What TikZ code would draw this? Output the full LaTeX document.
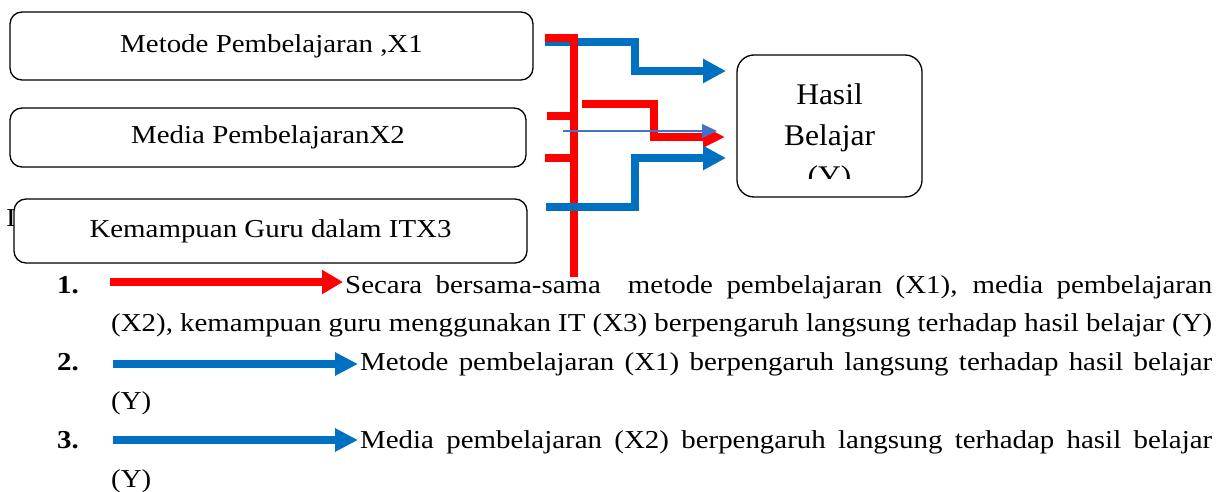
\documentclass[tikz,border=0pt]{standalone}
\usepackage{fontspec}
\setmainfont{Liberation Serif}[FakeStretch=1.12]
\newfontfamily\hasilfont{Liberation Serif}[FakeStretch=1.05]
\usepackage{xcolor}
\usepackage{tikz}
\usetikzlibrary{arrows.meta}
\definecolor{redline}{HTML}{FF0000}
\definecolor{blueline}{HTML}{0070C0}
\definecolor{thinblue}{HTML}{4472C4}
\tikzset{
  box/.style={draw, line width=1.3pt, rounded corners=12pt, fill=white, inner sep=0pt, font=\fontsize{25.8}{32}\selectfont},
  redp/.style={draw=redline, line width=8pt},
  bluep/.style={draw=blueline, line width=7.5pt},
  redarr/.style={redp, -{Triangle[length=22pt,width=20pt]}},
  bluearr/.style={bluep, -{Triangle[length=23pt,width=23pt]}},
  thinarr/.style={draw=thinblue, line width=1.2pt, -{Triangle[length=15pt,width=14pt]}},
  num/.style={font=\fontsize{25.8}{32}\selectfont\bfseries, anchor=base west, inner sep=0pt},
  body/.style={font=\fontsize{25.8}{32}\selectfont, anchor=base west, inner sep=0pt},
  hasiltxt/.style={font=\hasilfont\fontsize{30}{40}\selectfont, anchor=base, inner sep=0pt}
}

\begin{document}
\begin{tikzpicture}[x=1pt, y=-1pt]
  \useasboundingbox (0,0) rectangle (1222,492);

  % boxes
  \node[body] (stray) at (6,226) {I};
  \node[box, minimum width=523pt, minimum height=68pt] (metode) at (271.5,46) {Metode Pembelajaran ,X1};
  \node[box, minimum width=516pt, minimum height=59pt] (media) at (268,137.5) {Media PembelajaranX2};
  \node[box, minimum width=513pt, minimum height=64pt] (guru) at (270.5,231) {Kemampuan Guru dalam ITX3};
  \node[box, rounded corners=17pt, minimum width=185pt, minimum height=142pt] (hasil) at (829.5,126) {};
  \begin{scope}
    \clip (700,0) rectangle (950,178);
    \node[hasiltxt] (h1) at (829.5,105) {Hasil};
    \node[hasiltxt] (h2) at (829.5,145) {Belajar};
    \node[hasiltxt] (h3) at (829.5,186) {(Y)};
  \end{scope}

  % ends of the paths
  \coordinate (b1s) at (545,42);
  \coordinate (b1e) at (726,71);
  \coordinate (b2s) at (546,207);
  \coordinate (b2e) at (726,158);
  \coordinate (rs) at (545,38);
  \coordinate (rb) at (574,277);
  \coordinate (r2s) at (547,116);
  \coordinate (r3s) at (545,158);
  \coordinate (rjs) at (582,104);
  \coordinate (rje) at (725,137);
  \coordinate (ts) at (563,131);
  \coordinate (te) at (717,131);

  % paths to Y
  \draw[bluearr] (b1s) -- (635,42) -- (635,71) -- (b1e);
  \draw[redp] (rs) -- (574,38) -- (rb);
  \draw[redp] (r2s) -- (574,116);
  \draw[redp] (r3s) -- (574,158);
  \draw[redarr] (rjs) -- (654,104) -- (654,137) -- (rje);
  \draw[bluearr] (b2s) -- (635,207) -- (635,158) -- (b2e);
  \draw[thinarr] (ts) -- (te);

  % legend
  \node[num] (n1) at (57,293) {1.};
  \node[num] (n2) at (57,370) {2.};
  \node[num] (n3) at (57,448) {3.};
  \coordinate (l1s) at (110,282);
  \coordinate (l1e) at (343,282);
  \coordinate (l2s) at (113,364);
  \coordinate (l2e) at (358,364);
  \coordinate (l3s) at (113,440);
  \coordinate (l3e) at (358,440);
  \draw[redarr, -{Triangle[length=21pt,width=23pt]}] (l1s) -- (l1e);
  \draw[bluearr, -{Triangle[length=23pt,width=22pt]}] (l2s) -- (l2e);
  \draw[bluearr, -{Triangle[length=23pt,width=22pt]}] (l3s) -- (l3e);
  \node[body] (t1) at (345,293) {\makebox[867pt][s]{Secara bersama-sama\ \ metode pembelajaran (X1), media pembelajaran}};
  \node[body] (t2) at (111,331) {(X2), kemampuan guru menggunakan IT (X3) berpengaruh langsung terhadap hasil belajar (Y)};
  \node[body] (t3) at (360,370) {\makebox[852pt][s]{Metode pembelajaran (X1) berpengaruh langsung terhadap hasil belajar}};
  \node[body] (t4) at (111,409) {(Y)};
  \node[body] (t5) at (360,448) {\makebox[852pt][s]{Media pembelajaran (X2) berpengaruh langsung terhadap hasil belajar}};
  \node[body] (t6) at (111,487) {(Y)};
\end{tikzpicture}
\end{document}
